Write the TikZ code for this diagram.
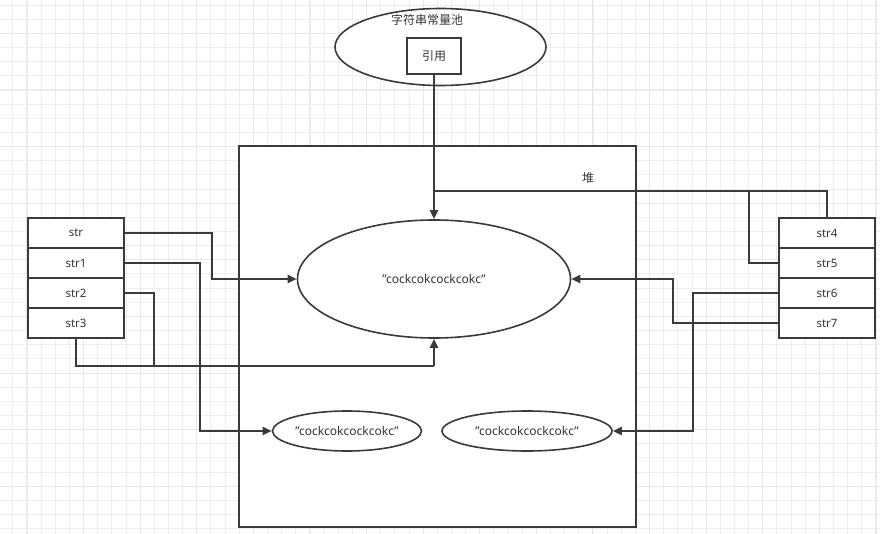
\documentclass[tikz,border=0pt]{standalone}
\usepackage{fontspec}
\setmainfont{Noto Sans}
\newfontfamily\cjk{Noto Sans CJK SC}
\usetikzlibrary{shapes.geometric,arrows.meta,calc}
\definecolor{ink}{HTML}{3A3A3A}
\definecolor{gminor}{HTML}{EEEEEE}
\definecolor{gmajor}{HTML}{E7E7E7}
\newcommand{\qq}{\symbol{34}}
\tikzset{
  txt/.style={font=\fontsize{12}{13}\selectfont, text=ink!90!black},
  gridline/.style={gminor, line width=0.7pt},
  gridmajor/.style={gmajor, line width=0.8pt},
  cell/.style={draw=ink, fill=white, line width=2pt, minimum width=96pt, minimum height=30pt, inner sep=0pt, font=\fontsize{11.5}{12}\selectfont, text=ink!90!black},
  oval/.style={draw=ink, fill=white, ellipse, line width=1.6pt, inner sep=0pt, txt},
  wire/.style={draw=ink, line width=2pt},
  arr/.style={wire, -{Triangle[length=9pt,width=8pt]}},
}
\begin{document}
\begin{tikzpicture}[x=1pt,y=-1pt]
\useasboundingbox (0,0) rectangle (880,534);
\fill[white] (0,0) rectangle (880,534);
% grid
\foreach \i in {0,...,62} {
  \draw[gridline] ({12.7+14.15*\i},0) -- ({12.7+14.15*\i},534);
}
\foreach \i in {0,...,38} {
  \draw[gridline] (0,{5+14.15*\i}) -- (880,{5+14.15*\i});
}
\foreach \i in {0,...,15} {
  \draw[gridmajor] ({26.85+56.6*\i},0) -- ({26.85+56.6*\i},534);
}
\foreach \i in {0,...,9} {
  \draw[gridmajor] (0,{33.3+56.6*\i}) -- (880,{33.3+56.6*\i});
}
% string pool
\node[oval, minimum width=211pt, minimum height=77pt] (pool) at (440.5,47) {};
\node[txt] (pooltxt) at (427,20) {\cjk 字符串常量池};
\node[draw=ink, fill=white, line width=2pt, minimum width=54pt, minimum height=36pt, inner sep=0pt, txt] (ref) at (434,56) {\cjk 引用};
% heap
\node[draw=ink, fill=white, line width=2pt, minimum width=397pt, minimum height=381pt, inner sep=0pt] (heap) at (437.5,336.5) {};
\node[txt] (heaptxt) at (588,178) {\cjk 堆};
% ellipses
\node[oval, minimum width=273pt, minimum height=118pt] (big) at (434,279) {\qq cockcokcockcokc\qq};
\node[oval, minimum width=149pt, minimum height=40pt] (sl) at (347,431) {\qq cockcokcockcokc\qq};
\node[oval, minimum width=170pt, minimum height=40pt] (sr) at (527,431) {\qq cockcokcockcokc\qq};
% left stack
\node[cell] (s0) at (76,233) {str};
\node[cell] (s1) at (76,263) {str1};
\node[cell] (s2) at (76,293) {str2};
\node[cell] (s3) at (76,323) {str3};
% right stack
\node[cell] (s4) at (827,233) {str4};
\node[cell] (s5) at (827,263) {str5};
\node[cell] (s6) at (827,293) {str6};
\node[cell] (s7) at (827,323) {str7};
% junctions
\coordinate (jt) at (434,191);
\coordinate (jb) at (434,366);
% connectors
\draw[arr] (ref.south) -- (big.north);
\draw[wire] (s4.north) |- (jt);
\draw[wire] (s5.west) -- ++(-29,0) |- (jt);
\draw[arr] (s0.east) -- ++(87,0) |- (big.west);
\draw[arr] (s1.east) -- ++(75,0) |- (sl.west);
\draw[wire] (s2.east) -- ++(29,0) |- (jb);
\draw[wire] (s3.south) |- (jb);
\draw[arr] (jb) -- (big.south);
\draw[arr] (s6.west) -- ++(-85,0) |- (sr.east);
\draw[arr] (s7.west) -- ++(-105,0) |- (big.east);
\end{tikzpicture}
\end{document}
